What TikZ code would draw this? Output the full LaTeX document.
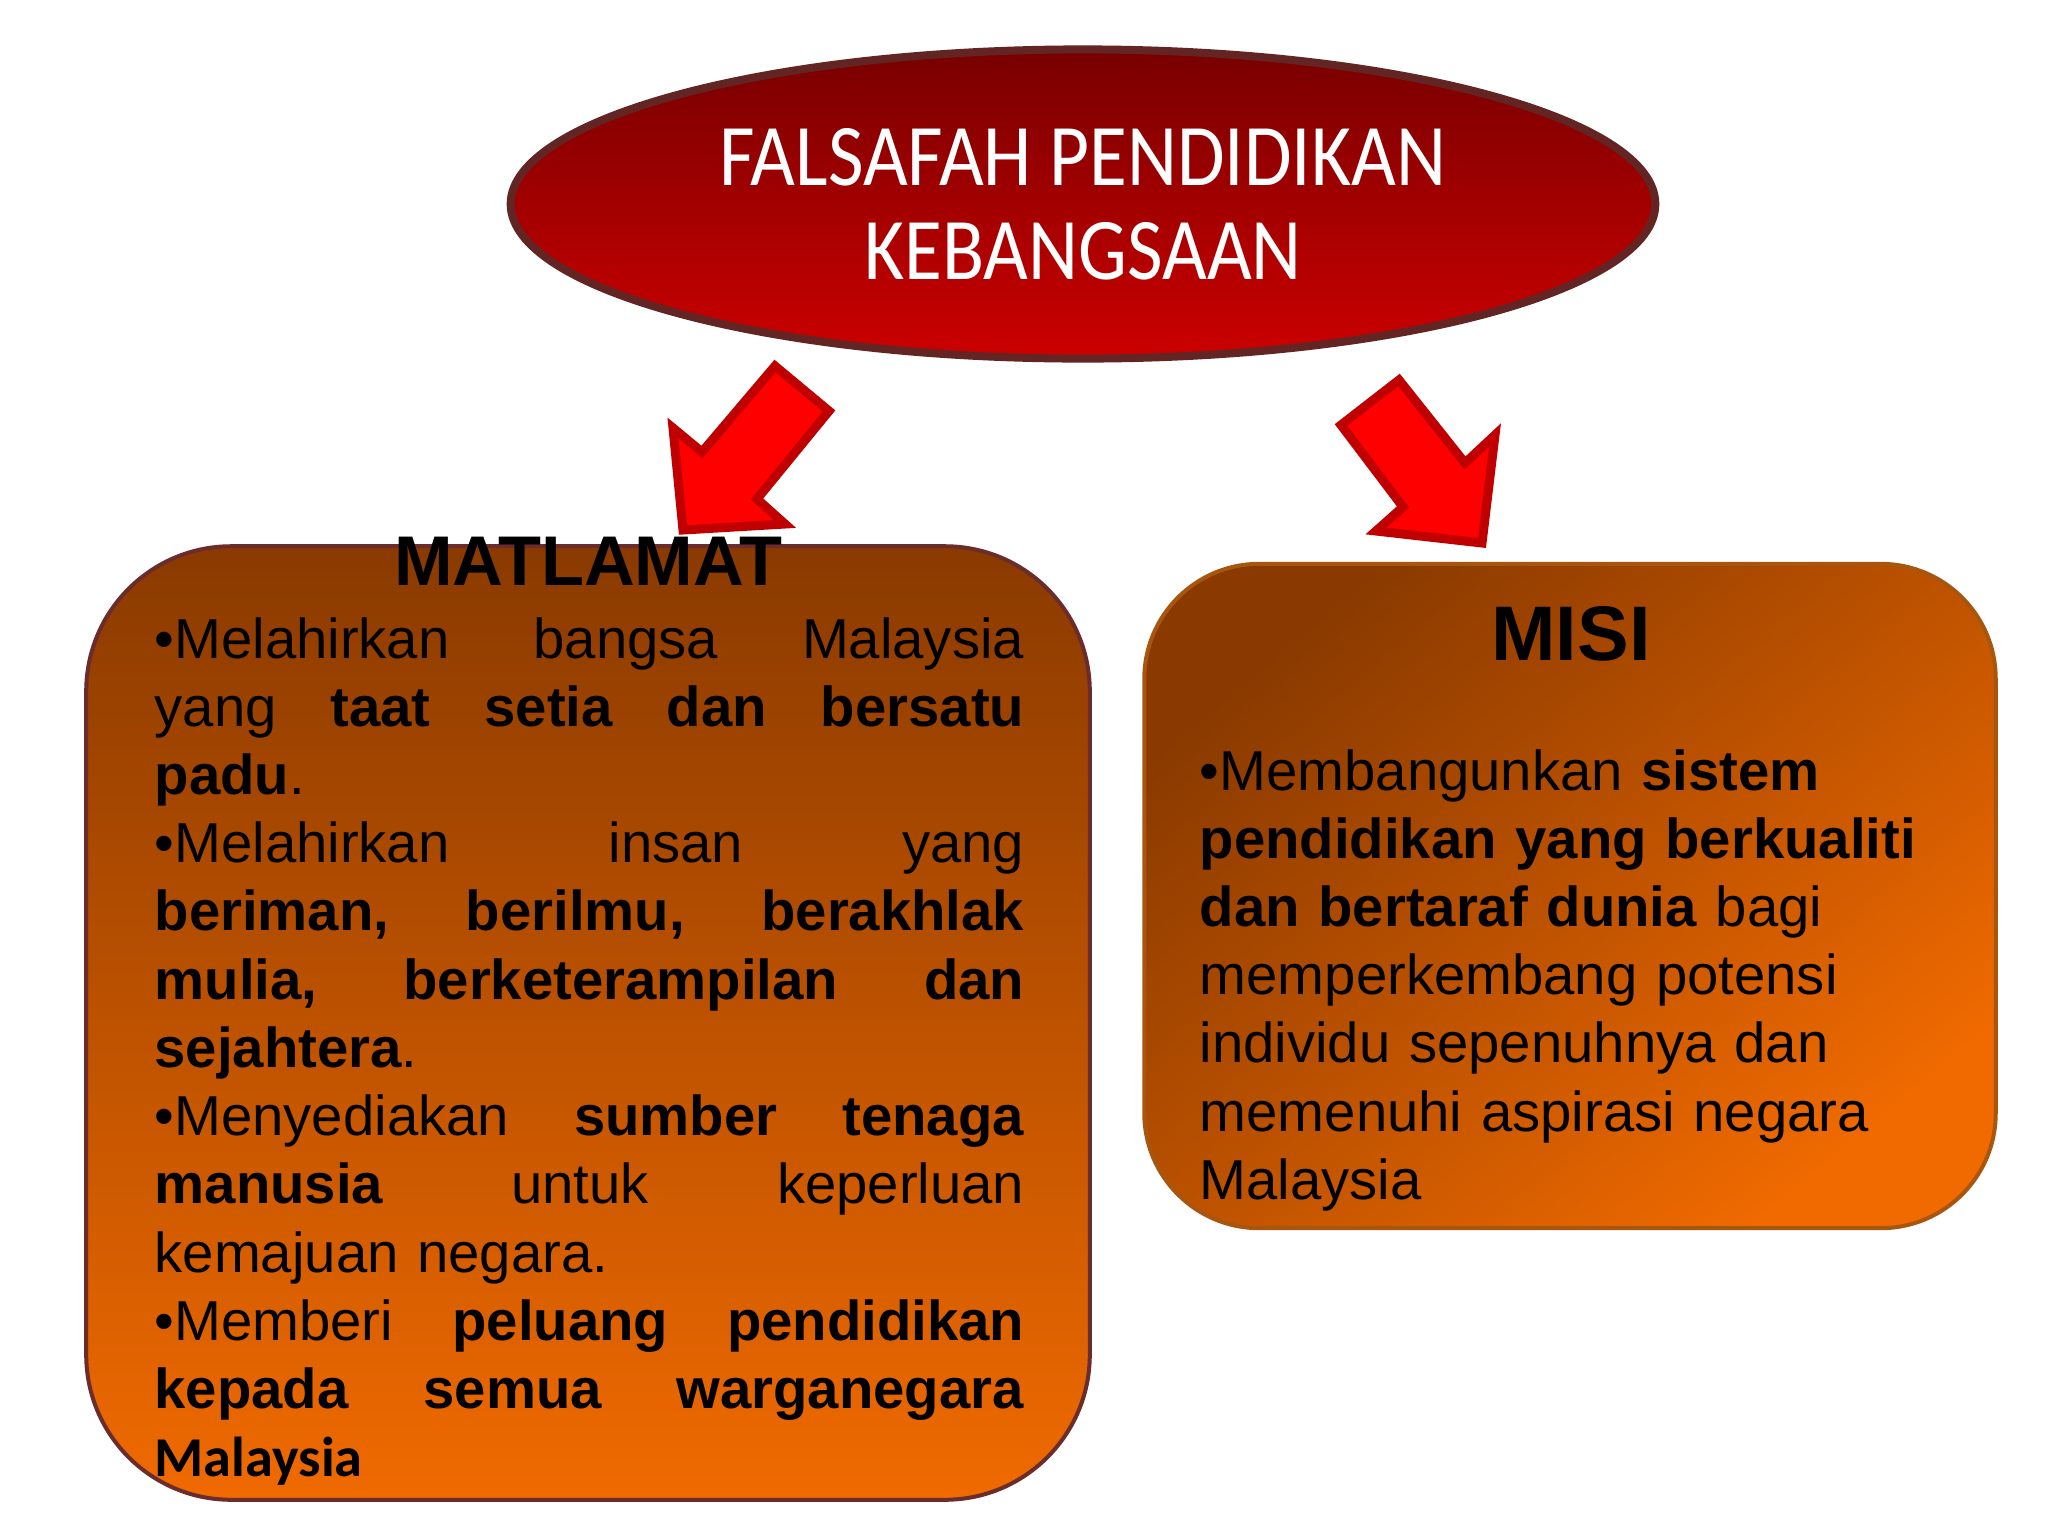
\documentclass[tikz,border=0pt]{standalone}
\usepackage{fontspec}
\setmainfont{Liberation Sans}
\newfontfamily\ellipsefont[FakeStretch=0.88]{Carlito}
\newfontfamily\carlitofont{Carlito}
\usetikzlibrary{shapes.geometric}
\definecolor{ellborder}{HTML}{632523}
\definecolor{elltop}{HTML}{780000}
\definecolor{ellbottom}{HTML}{CC0000}
\definecolor{arrowfill}{HTML}{FF0000}
\definecolor{arrowedge}{HTML}{C00000}
\definecolor{boxdark}{HTML}{8A3A00}
\definecolor{boxlight}{HTML}{F06A00}
\definecolor{leftedge}{HTML}{6B2C2C}
\definecolor{rightedge}{HTML}{A8560E}
\newcommand{\spreadline}[1]{\hbox to \linewidth{#1}}
\tikzset{
	bigarrow/.style={fill=arrowfill,draw=arrowedge,line width=0.09cm,line join=miter},
	roundbox/.style={rectangle,line width=0.04cm,top color=boxdark,bottom color=boxlight},
	bodytext/.style={inner sep=0,anchor=base west,font={\fontsize{16}{19.4}\selectfont}}
}

\begin{document}
\begin{tikzpicture}[x=0.01cm,y=-0.01cm]
	\fill[white] (0,0) rectangle (2048,1536);
	\useasboundingbox (0,0) rectangle (2048,1536);
	\node (fpk) [ellipse,draw=ellborder,line width=0.08cm,top color=elltop,bottom color=ellbottom,minimum width=11.44cm,minimum height=3.09cm,inner sep=0,text=white,align=center,font={\ellipsefont\fontsize{25}{26.7}\selectfont}] at (1083,204) {FALSAFAH PENDIDIKAN\\KEBANGSAAN};
	\node (matlamatbox) [roundbox,draw=leftedge,rounded corners=1.45cm,minimum width=10.03cm,minimum height=9.53cm] at (588,1023) {};
	\node (misibox) [roundbox,draw=rightedge,rounded corners=1.15cm,shading angle=40,minimum width=8.51cm,minimum height=6.64cm] at (1570,896) {};
	\filldraw[bigarrow] (775,366) -- (829,411) -- (757,499) -- (785,524) -- (683,530) -- (673,428) -- (702,452) -- cycle;
	\filldraw[bigarrow] (1399,380) -- (1341,425) -- (1403,507) -- (1376,531) -- (1482,543) -- (1495,435) -- (1465,463) -- cycle;
	\node (matlamat) [font={\bfseries\fontsize{20}{24}\selectfont},anchor=base] at (588,585) {MATLAMAT};
	\node (misi) [font={\bfseries\fontsize{22}{26}\selectfont},anchor=base] at (1571,660) {MISI};
	\node (matlamattext) [bodytext,text width=8.69cm] at (154,658) {%
		\spreadline{\textbullet Melahirkan\hfill bangsa\hfill Malaysia}
		\spreadline{yang\hfill \textbf{taat}\hfill \textbf{setia}\hfill \textbf{dan}\hfill \textbf{bersatu}}
		\spreadline{\textbf{padu}.\hfill}
		\spreadline{\textbullet Melahirkan\hfill insan\hfill yang}
		\spreadline{\textbf{beriman,}\hfill \textbf{berilmu,}\hfill \textbf{berakhlak}}
		\spreadline{\textbf{mulia,}\hfill \textbf{berketerampilan}\hfill \textbf{dan}}
		\spreadline{\textbf{sejahtera}.\hfill}
		\spreadline{\textbullet Menyediakan\hfill \textbf{sumber}\hfill \textbf{tenaga}}
		\spreadline{\textbf{manusia}\hfill untuk\hfill keperluan}
		\spreadline{kemajuan negara.\hfill}
		\spreadline{\textbullet Memberi\hfill \textbf{peluang}\hfill \textbf{pendidikan}}
		\spreadline{\textbf{kepada}\hfill \textbf{semua}\hfill \textbf{warganegara}}
		\spreadline{{\carlitofont\bfseries Malaysia}\hfill}};
	\node (misitext) [bodytext,text width=7.6cm,align=left] at (1199,790) {\textbullet Membangunkan \textbf{sistem}\\
		\textbf{pendidikan yang berkualiti}\\
		\textbf{dan bertaraf dunia} bagi\\
		memperkembang potensi\\
		individu sepenuhnya dan\\
		memenuhi aspirasi negara\\
		Malaysia};
\end{tikzpicture}
\end{document}
